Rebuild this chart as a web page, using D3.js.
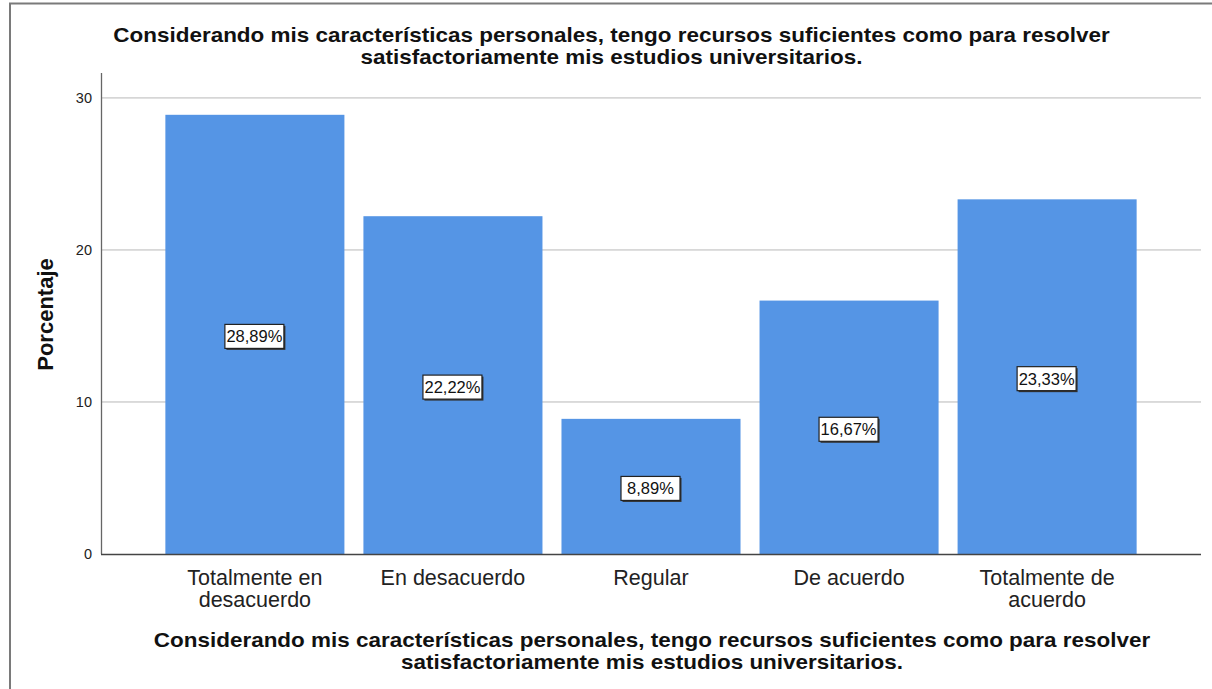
<!DOCTYPE html>
<html>
<head>
<meta charset="utf-8">
<script src="https://cdn.jsdelivr.net/npm/d3@7"></script>
<style>
  body { margin: 0; background: #fff; }
  svg { display: block; font-family: "Liberation Sans", Arial, sans-serif; }
</style>
</head>
<body>
<svg width="1212" height="689"></svg>
<script>
// datos del gráfico
var categories = ["Totalmente en desacuerdo", "En desacuerdo", "Regular", "De acuerdo", "Totalmente de acuerdo"];
var catLines = [["Totalmente en", "desacuerdo"], ["En desacuerdo"], ["Regular"], ["De acuerdo"], ["Totalmente de", "acuerdo"]];
var values = [28.89, 22.22, 8.89, 16.67, 23.33];
var yTicks = [0, 10, 20, 30];
var titleLines = ["Considerando mis características personales, tengo recursos suficientes como para resolver",
                  "satisfactoriamente mis estudios universitarios."];

var svg = d3.select("svg"),
    margin = {top: 73, right: 11, bottom: 135, left: 101},
    width = 1212 - margin.left - margin.right,
    height = 689 - margin.top - margin.bottom,
    g = svg.append("g")
    .attr("transform", "translate(" + margin.left + "," + margin.top + ")");

var fmt = function(v) { return v.toFixed(2).replace(".", ",") + "%"; };

// marco exterior
svg.append("path")
    .attr("d", "M10,689 V3.5 H1212")
    .attr("fill", "none")
    .attr("stroke", "#7a7a7a")
    .attr("stroke-width", 2);

var x = d3.scaleBand()
    .domain(categories)
    .range([0, width])
    .paddingInner(0.096)
    .paddingOuter(0.325);

var y = d3.scaleLinear()
    .domain([0, 31.64])
    .range([height, 0]);

// rejilla
g.append("g")
    .selectAll("line")
    .data(yTicks.slice(1))
    .enter().append("line")
    .attr("x1", 0)
    .attr("x2", width)
    .attr("y1", function(d) { return y(d); })
    .attr("y2", function(d) { return y(d); })
    .attr("stroke", "#b8b8b8")
    .attr("stroke-width", 1);

// barras
g.selectAll(".bar")
    .data(values)
    .enter().append("rect")
    .attr("class", "bar")
    .attr("x", function(d, i) { return x(categories[i]); })
    .attr("width", x.bandwidth())
    .attr("y", function(d) { return y(d); })
    .attr("height", function(d) { return height - y(d); })
    .attr("fill", "#5595e5");

// eje Y
var yAxis = g.append("g")
    .call(d3.axisLeft(y).tickValues(yTicks).tickSize(0).tickPadding(9));
yAxis.select(".domain").remove();
yAxis.selectAll("text")
    .style("font-size", "14.5px")
    .attr("fill", "#222");

g.append("line")
    .attr("x1", 0.5).attr("x2", 0.5)
    .attr("y1", 0).attr("y2", height)
    .attr("stroke", "#666")
    .attr("stroke-width", 1.3);

// eje X
g.append("line")
    .attr("x1", 0).attr("x2", width)
    .attr("y1", height + 0.5).attr("y2", height + 0.5)
    .attr("stroke", "#444")
    .attr("stroke-width", 1.3);

var xl = g.selectAll(".xl")
    .data(catLines)
    .enter().append("text")
    .attr("class", "xl")
    .attr("text-anchor", "middle")
    .attr("fill", "#222")
    .style("font-size", "21.5px");
xl.each(function(lines, i) {
    var t = d3.select(this);
    lines.forEach(function(s, j) {
        t.append("tspan")
            .attr("x", x(categories[i]) + x.bandwidth() / 2)
            .attr("y", height + 31 + j * 22)
            .text(s);
    });
});

// etiquetas
var lab = g.selectAll(".lab")
    .data(values)
    .enter().append("g")
    .attr("class", "lab")
    .attr("transform", function(d, i) {
        return "translate(" + (x(categories[i]) + x.bandwidth() / 2) + "," + (y(d / 2) + 2) + ")";
    });
lab.append("rect")
    .attr("x", -28.5).attr("y", -10.5)
    .attr("width", 59).attr("height", 24)
    .attr("fill", "#333");
lab.append("rect")
    .attr("x", -30).attr("y", -12)
    .attr("width", 59).attr("height", 24)
    .attr("fill", "#fff")
    .attr("stroke", "#222")
    .attr("stroke-width", 1.2);
lab.append("text")
    .attr("x", -0.5)
    .attr("text-anchor", "middle")
    .attr("dy", "0.36em")
    .attr("fill", "#111")
    .style("font-size", "16.5px")
    .text(function(d) { return fmt(d); });

// título eje Y
svg.append("text")
    .attr("transform", "translate(53," + (margin.top + height * 0.5 + 1) + ") rotate(-90)")
    .attr("text-anchor", "middle")
    .style("font-size", "22px")
    .style("font-weight", "bold")
    .attr("fill", "#111")
    .text("Porcentaje");

// títulos (fuente algo más ancha que alta, como en el original)
function titulo(cx, y0) {
    var t = svg.append("text")
        .attr("text-anchor", "middle")
        .style("font-size", "19.5px")
        .style("font-weight", "bold")
        .attr("fill", "#111");
    titleLines.forEach(function(s, j) {
        t.append("tspan").attr("x", 0).attr("y", y0 + j * 22).text(s);
    });
    var w = t.select("tspan").node().getComputedTextLength();
    t.attr("transform", "translate(" + cx + ",0) scale(" + (997 / w) + ",1)");
}
titulo(611.5, 42);
titulo(652, 647);
</script>
</body>
</html>
